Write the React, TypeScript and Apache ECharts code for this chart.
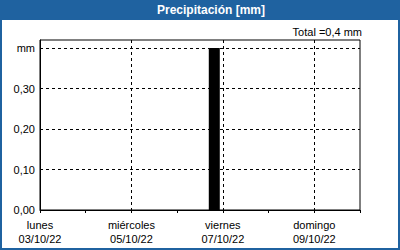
import React, { useEffect, useRef } from "react";
import * as echarts from "echarts";

const dayNames = ["lunes", "martes", "miércoles", "jueves", "viernes", "sábado", "domingo"];
const dayDates = ["03/10/22", "04/10/22", "05/10/22", "06/10/22", "07/10/22", "08/10/22", "09/10/22"];
// bar position in hours since 03/10/22 00:00, and precipitation value (mm)
const barHours = [91.5];
const barValues = [0.4];
const totalText = "Total =0,4 mm";
const titleText = "Precipitación [mm]";

const FONT = "'Liberation Sans', Arial, sans-serif";
const BLUE = "#1f62a0";

export default function App() {
  const ref = useRef<HTMLDivElement>(null);
  useEffect(() => {
    if (!ref.current) return;
    const chart = echarts.init(ref.current, undefined, { renderer: "svg" });
    chart.setOption({
      animation: false,
      backgroundColor: "#ffffff",
      grid: {
        left: 40,
        right: 40,
        top: 40,
        bottom: 40,
        show: true,
        borderColor: "#000",
        borderWidth: 1,
        containLabel: false,
      },
      graphic: [
        { type: "rect", z: 10, shape: { x: 0, y: 0, width: 400, height: 20 }, style: { fill: BLUE } },
        {
          type: "rect",
          z: 10,
          shape: { x: 1, y: 1, width: 398, height: 248 },
          style: { fill: "none", stroke: BLUE, lineWidth: 2 },
        },
        {
          type: "text",
          z: 11,
          x: 211,
          y: 10,
          style: {
            text: titleText,
            fill: "#fff",
            font: `bold 12px ${FONT}`,
            textAlign: "center",
            textVerticalAlign: "middle",
          },
        },
        {
          type: "text",
          z: 11,
          x: 362,
          y: 32,
          style: {
            text: totalText,
            fill: "#000",
            font: `11px ${FONT}`,
            textAlign: "right",
            textVerticalAlign: "middle",
          },
        },
      ],
      xAxis: [
        {
          type: "value",
          min: 0,
          max: 168,
          interval: 24,
          axisLine: { show: true, lineStyle: { color: "#000", width: 1 } },
          axisTick: { show: true, length: 3, lineStyle: { color: "#000" } },
          splitLine: { show: false },
          axisLabel: {
            show: true,
            margin: 8,
            color: "#000",
            fontFamily: FONT,
            fontSize: 11,
            lineHeight: 14,
            showMinLabel: true,
            showMaxLabel: true,
            formatter: (v: number) => {
              const i = Math.round(v / 24);
              if (i % 2 !== 0 || i >= dayNames.length) return "";
              return dayNames[i] + "\n" + dayDates[i];
            },
          },
        },
        {
          type: "value",
          min: 0,
          max: 168,
          interval: 48,
          position: "bottom",
          axisLine: { show: false },
          axisTick: { show: false },
          axisLabel: { show: false },
          splitLine: {
            show: true,
            showMinLine: false,
            showMaxLine: false,
            lineStyle: { color: "#000", type: [3, 3], width: 1 },
          },
        },
      ],
      yAxis: {
        type: "value",
        min: 0,
        max: 0.42,
        interval: 0.1,
        axisLine: { show: true, lineStyle: { color: "#000", width: 1 } },
        axisTick: { show: false },
        splitLine: {
          show: true,
          showMinLine: false,
          showMaxLine: false,
          lineStyle: { color: "#000", type: [3, 3], width: 1 },
        },
        axisLabel: {
          margin: 5,
          color: "#000",
          fontFamily: FONT,
          fontSize: 11,
          formatter: (v: number) => {
            if (v > 0.41) return "";
            if (Math.abs(v - 0.4) < 1e-6) return "mm";
            return v.toFixed(2).replace(".", ",");
          },
        },
      },
      series: [
        {
          type: "bar",
          xAxisIndex: 0,
          barWidth: 11,
          itemStyle: { color: "#000" },
          data: barHours.map((h, i) => [h, barValues[i]]),
        },
      ],
    });
    return () => chart.dispose();
  }, []);
  return (
    <div
      ref={ref}
      style={{ position: "fixed", left: 0, top: 0, width: 400, height: 250 }}
    />
  );
}
